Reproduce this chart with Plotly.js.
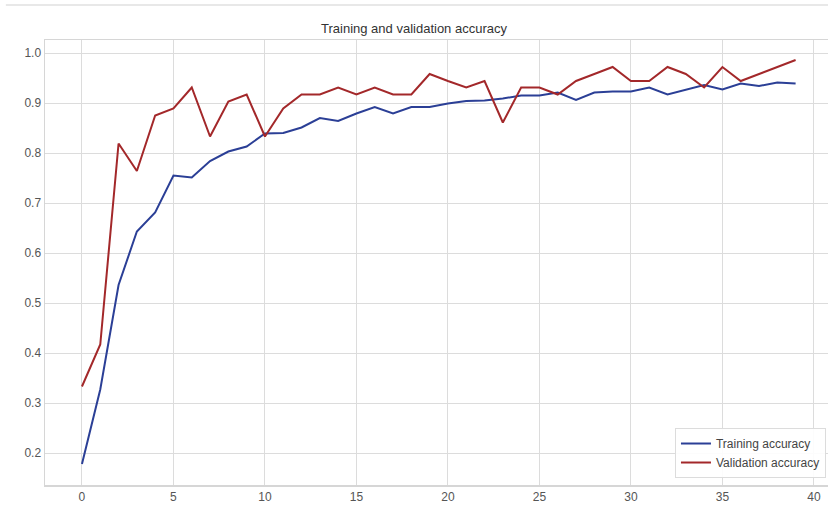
<!DOCTYPE html>
<html>
<head>
<meta charset="utf-8">
<script src="https://cdn.plot.ly/plotly-3.0.1.min.js"></script>
<style>html,body{margin:0;padding:0;background:#fff;}#chart{width:828px;height:525px;}</style>
</head>
<body>
<div id="chart"></div>
<script>
const epochs = [];
for (let i = 0; i < 40; i++) epochs.push(i);
const trainingAccuracy = [0.178, 0.327, 0.536, 0.643, 0.681, 0.755, 0.751, 0.784, 0.803, 0.813,
  0.839, 0.840, 0.851, 0.870, 0.864, 0.879, 0.892, 0.879, 0.892, 0.892,
  0.899, 0.904, 0.905, 0.909, 0.915, 0.915, 0.921, 0.906, 0.921, 0.923,
  0.923, 0.931, 0.917, 0.926, 0.936, 0.927, 0.939, 0.934, 0.941, 0.939];
const validationAccuracy = [0.333, 0.417, 0.819, 0.764, 0.875, 0.889, 0.931, 0.833, 0.903, 0.917,
  0.833, 0.889, 0.917, 0.917, 0.931, 0.917, 0.931, 0.917, 0.917, 0.958,
  0.944, 0.931, 0.944, 0.861, 0.931, 0.931, 0.917, 0.944, 0.958, 0.972,
  0.944, 0.944, 0.972, 0.958, 0.931, 0.972, 0.944, 0.958, 0.972, 0.986];
const xTicks = [0, 5, 10, 15, 20, 25, 30, 35, 40];
const yTicks = [0.2, 0.3, 0.4, 0.5, 0.6, 0.7, 0.8, 0.9, 1.0];
const yTickText = ['0.2', '0.3', '0.4', '0.5', '0.6', '0.7', '0.8', '0.9', '1.0'];

const font = 'Liberation Sans, Arial, sans-serif';
const traces = [
  {x: epochs, y: trainingAccuracy, mode: 'lines', name: 'Training accuracy',
   line: {color: '#2b3f96', width: 2}},
  {x: epochs, y: validationAccuracy, mode: 'lines', name: 'Validation accuracy',
   line: {color: '#a3282a', width: 2}}
];
const layout = {
  width: 828, height: 525,
  margin: {l: 45, r: 0, t: 40, b: 40},
  paper_bgcolor: '#fff', plot_bgcolor: '#fff',
  font: {family: font, color: '#444', size: 12},
  title: {text: 'Training and validation accuracy', font: {family: font, size: 13, color: '#333'},
          x: 0.5, xanchor: 'center', y: 0.945, yanchor: 'middle'},
  xaxis: {range: [-2.02, 40.77], tickvals: xTicks, ticktext: xTicks.map(String),
          showgrid: true, gridcolor: '#dcdcdc', gridwidth: 1, zeroline: false,
          showline: true, mirror: true, linecolor: '#d6d6d6', linewidth: 1.5,
          ticks: '', ticklen: 0, tickfont: {size: 12, color: '#555'}},
  yaxis: {range: [0.136, 1.026], tickvals: yTicks, ticktext: yTickText,
          showgrid: true, gridcolor: '#dcdcdc', gridwidth: 1, zeroline: false,
          showline: true, mirror: true, linecolor: '#d6d6d6', linewidth: 1.5,
          ticks: '', tickfont: {size: 12, color: '#555'}},
  showlegend: true,
  legend: {x: 0.9974, y: 0.0157, xanchor: 'right', yanchor: 'bottom',
           bgcolor: 'rgba(255,255,255,0.9)', bordercolor: '#dcdcdc', borderwidth: 1,
           font: {family: font, size: 12, color: '#444'}, tracegroupgap: 0},
  shapes: [
    {type: 'line', xref: 'paper', yref: 'paper', x0: -0.05, x1: 1.0, y0: 1.0787, y1: 1.0787,
     line: {color: '#e8e8e8', width: 2}}
  ]
};
Plotly.newPlot('chart', traces, layout, {displayModeBar: false, staticPlot: true});
</script>
</body>
</html>
